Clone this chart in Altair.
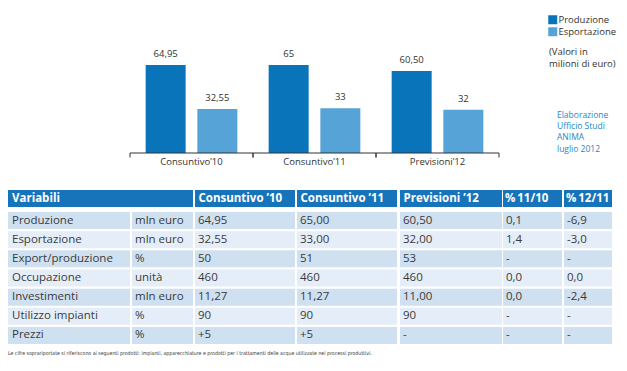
import altair as alt
import pandas as pd

# ---------------- data ----------------
periods = ["Consuntivo’10", "Consuntivo’11", "Previsioni’12"]
series = ["Produzione", "Esportazione"]
produzione = [64.95, 65.0, 60.50]
esportazione = [32.55, 33.0, 32.0]
label_prod = ["64,95", "65", "60,50"]
label_exp = ["32,55", "33", "32"]

unit_note = "(Valori in\nmilioni di euro)"
source_note = "Elaborazione\nUfficio Studi\nANIMA\nluglio 2012"

table_header = ["Variabili", "Consuntivo ’10", "Consuntivo ’11", "Previsioni ’12", "%\u200911/10", "%\u200912/11"]
variabili = ["Produzione", "Esportazione", "Export/produzione", "Occupazione",
             "Investimenti", "Utilizzo impianti", "Prezzi"]
unita = ["mln euro", "mln euro", "%", "unità", "mln euro", "%", "%"]
cons10 = ["64,95", "32,55", "50", "460", "11,27", "90", "+5"]
cons11 = ["65,00", "33,00", "51", "460", "11,27", "90", "+5"]
prev12 = ["60,50", "32,00", "53", "460", "11,00", "90", "-"]
var1110 = ["0,1", "1,4", "-", "0,0", "0,0", "-", "-"]
var1211 = ["-6,9", "-3,0", "-", "0,0", "-2,4", "-", "-"]

footnote = ("Le cifre soprariportate si riferiscono ai seguenti prodotti: impianti, apparecchiature "
            "e prodotti per i trattamenti delle acque utilizzate nei processi produttivi.")

# ---------------- layout / style ----------------
W, H = 611, 355
FONT = "Open Sans"
C_PROD, C_EXP = "#0a74bb", "#56a3d8"
C_HEAD = "#1874ba"
ROW_FILLS = ["#cfe0f1", "#e5eef8"]
TXT = "#3a3a3a"
AX = "#333333"
col_edges = [(0, 122), (124, 185), (187, 287), (289, 389), (392, 494), (495, 554), (556, 604)]
head_edges = [(0, 185)] + col_edges[2:]
head_pads = [4, 3.5, 3.5, 3.5, 2, 2]
AXIS_Y = 145

# ---------------- bar chart ----------------
bars_df = pd.DataFrame({
    "periodo": periods * 2,
    "serie": [s for s in series for _ in periods],
    "valore": produzione + esportazione,
    "label": label_prod + label_exp,
})
per_df = pd.DataFrame({"periodo": periods})

x_scale = alt.Scale(domain=periods, range=[122, 491], paddingInner=0, paddingOuter=0)
xo_scale = alt.Scale(domain=series, paddingInner=0.226, paddingOuter=0.303)
y_scale = alt.Scale(domain=[0, 65], range=[AXIS_Y, 57], nice=False, zero=True)

bars = alt.Chart(bars_df).mark_bar().encode(
    x=alt.X("periodo:N", sort=periods, scale=x_scale, axis=None),
    xOffset=alt.XOffset("serie:N", sort=series, scale=xo_scale),
    y=alt.Y("valore:Q", scale=y_scale, axis=None),
    color=alt.Color("serie:N", sort=series,
                    scale=alt.Scale(domain=series, range=[C_PROD, C_EXP]),
                    legend=alt.Legend(title=None, orient="none", legendX=540, legendY=7,
                                      symbolType="square", symbolSize=81, symbolStrokeWidth=0,
                                      labelFontSize=9.5, labelFont=FONT, labelColor=AX,
                                      rowPadding=1, padding=0, labelOffset=1)),
)

bar_labels = alt.Chart(bars_df).mark_text(dy=-11, fontSize=9.5, font=FONT, color=AX).encode(
    x=alt.X("periodo:N", sort=periods, scale=x_scale, axis=None),
    xOffset=alt.XOffset("serie:N", sort=series, scale=xo_scale),
    y=alt.Y("valore:Q", scale=y_scale, axis=None),
    text="label:N",
)

baseline = alt.Chart(per_df).mark_rule(color=AX, strokeWidth=1).encode(
    x=alt.X("periodo:N", sort=periods, scale=x_scale, axis=None, bandPosition=0),
    x2=alt.X2("periodo:N", bandPosition=1),
    y=alt.value(AXIS_Y),
)
ticks_l = alt.Chart(per_df).mark_rule(color=AX, strokeWidth=1).encode(
    x=alt.X("periodo:N", sort=periods, scale=x_scale, axis=None, bandPosition=0),
    y=alt.value(AXIS_Y), y2=alt.value(AXIS_Y + 4.5),
)
ticks_r = alt.Chart(per_df).mark_rule(color=AX, strokeWidth=1).encode(
    x=alt.X("periodo:N", sort=periods, scale=x_scale, axis=None, bandPosition=1),
    y=alt.value(AXIS_Y), y2=alt.value(AXIS_Y + 4.5),
)
cat_labels = alt.Chart(per_df).mark_text(fontSize=9.5, font=FONT, color=AX, baseline="middle").encode(
    x=alt.X("periodo:N", sort=periods, scale=x_scale, axis=None),
    y=alt.value(AXIS_Y + 9),
    text="periodo:N",
)

bar_part = alt.layer(bars, bar_labels, baseline, ticks_l, ticks_r, cat_labels)

notes1 = alt.Chart(pd.DataFrame({"t": [unit_note]})).mark_text(
    align="left", baseline="top", lineBreak="\n", lineHeight=11.5, fontSize=9.5, font=FONT, color=AX
).encode(x=alt.value(541), y=alt.value(39), text="t:N")

notes2 = alt.Chart(pd.DataFrame({"t": [source_note]})).mark_text(
    align="left", baseline="top", lineBreak="\n", lineHeight=11.2, fontSize=8.5, font=FONT, color="#2a86c8"
).encode(x=alt.value(549), y=alt.value(103), text="t:N")

# ---------------- table ----------------
cols = [variabili, unita, cons10, cons11, prev12, var1110, var1211]
recs = []
for i, v in enumerate(variabili):
    for j, col in enumerate(cols):
        x0, x1 = col_edges[j]
        recs.append({"row": v, "x0": x0, "x1": x1, "xt": x0 + (4 if j == 0 else 3),
                     "text": col[i], "fill": ROW_FILLS[i % 2]})
tab_df = pd.DataFrame(recs)

tx = alt.Scale(domain=[0, W], range=[0, W], nice=False, zero=False)
ty = alt.Scale(domain=variabili, range=[204, 336], paddingInner=0.11, paddingOuter=0)

cells = alt.Chart(tab_df).mark_rect().encode(
    x=alt.X("x0:Q", scale=tx, axis=None), x2="x1:Q",
    y=alt.Y("row:N", sort=variabili, scale=ty, axis=None),
    color=alt.Color("fill:N", scale=None),
)
cell_text = alt.Chart(tab_df).mark_text(align="left", fontSize=11.5, font=FONT, color=TXT).encode(
    x=alt.X("xt:Q", scale=tx, axis=None),
    y=alt.Y("row:N", sort=variabili, scale=ty, axis=None),
    text="text:N",
)
table_part = alt.layer(cells, cell_text)

head_df = pd.DataFrame({
    "text": table_header,
    "x0": [e[0] for e in head_edges],
    "x1": [e[1] for e in head_edges],
})
head_df["xt"] = head_df["x0"] + pd.Series(head_pads)

head_rect = alt.Chart(head_df).mark_rect(color=C_HEAD).encode(
    x=alt.X("x0:Q", scale=tx, axis=None), x2="x1:Q",
    y=alt.value(182), y2=alt.value(199),
)
head_text = alt.Chart(head_df).mark_text(align="left", fontSize=11.5, font=FONT, fontWeight="bold",
                                          color="white").encode(
    x=alt.X("xt:Q", scale=tx, axis=None),
    y=alt.value(190.5),
    text="text:N",
)
head_part = alt.layer(head_rect, head_text)

foot = alt.Chart(pd.DataFrame({"t": [footnote]})).mark_text(
    align="left", baseline="middle", fontSize=5.2, font="DejaVu Sans Condensed",
    color=AX
).encode(x=alt.value(0), y=alt.value(345), text="t:N")

chart = alt.layer(bar_part, notes1, notes2, table_part, head_part, foot).resolve_scale(
    x="independent", y="independent", color="independent", xOffset="independent"
).properties(
    width=W, height=H, autosize=alt.AutoSizeParams(type="none"), padding=0, background="white"
).configure_view(stroke=None)

chart.save("out.html", embed_options={"renderer": "svg", "actions": False})
